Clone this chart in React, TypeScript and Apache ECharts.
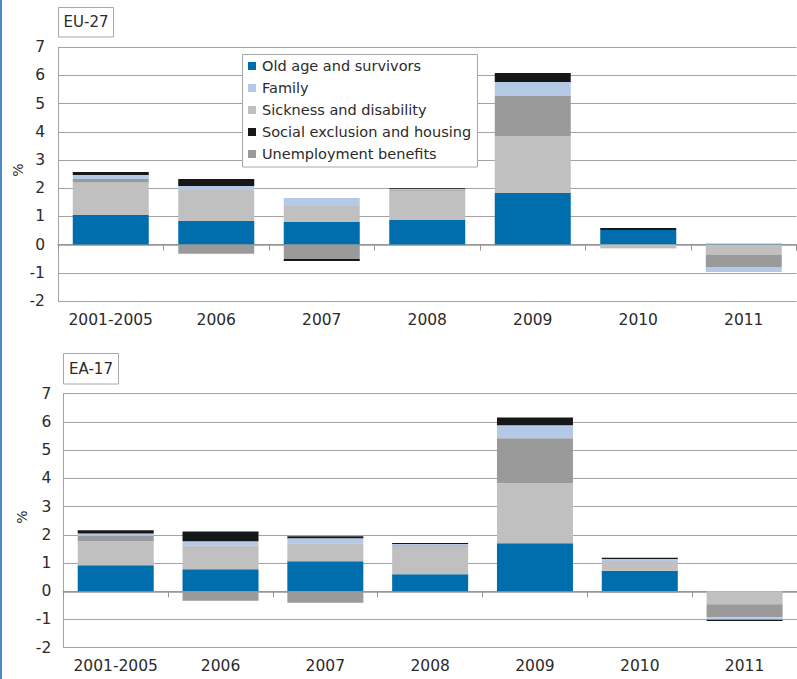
import React, { useEffect, useRef } from "react";
import * as echarts from "echarts";

const categories = ["2001-2005", "2006", "2007", "2008", "2009", "2010", "2011"];
const seriesNames = [
  "Old age and survivors",
  "Sickness and disability",
  "Unemployment benefits",
  "Family",
  "Social exclusion and housing",
];
const legendOrder = [
  "Old age and survivors",
  "Family",
  "Sickness and disability",
  "Social exclusion and housing",
  "Unemployment benefits",
];
const colors = ["#006dac", "#bfc0bf", "#9a9a9a", "#b4c9e6", "#161817"];

// EU-27
const euOldAge = [1.05, 0.84, 0.8, 0.87, 1.83, 0.52, 0.03];
const euSickness = [1.15, 1.1, 0.57, 1.04, 2.02, -0.1, -0.37];
const euUnemployment = [0.13, -0.32, -0.51, 0.03, 1.42, -0.03, -0.42];
const euFamily = [0.14, 0.14, 0.28, 0.03, 0.5, 0, -0.18];
const euSocial = [0.11, 0.25, -0.07, 0.03, 0.32, 0.07, 0];

// EA-17
const eaOldAge = [0.92, 0.78, 1.06, 0.6, 1.7, 0.73, 0];
const eaSickness = [0.85, 0.85, 0.64, 0.99, 2.13, 0.34, -0.46];
const eaUnemployment = [0.2, -0.34, -0.41, 0.04, 1.59, -0.04, -0.46];
const eaFamily = [0.08, 0.14, 0.18, 0.04, 0.46, 0.07, -0.09];
const eaSocial = [0.11, 0.35, 0.07, 0.04, 0.28, 0.05, -0.04];

const yMin = -2;
const yMax = 7;
const yInterval = 1;

const FONT = "DejaVu Sans";
const TEXT = "#2b2b2b";
const GRIDC = "#a3a3a3";

export default function App() {
  const ref = useRef<HTMLDivElement>(null);
  useEffect(() => {
    if (!ref.current) return;
    const chart = echarts.init(ref.current, null, { renderer: "svg" });
    const euData = [euOldAge, euSickness, euUnemployment, euFamily, euSocial];
    const eaData = [eaOldAge, eaSickness, eaUnemployment, eaFamily, eaSocial];

    const grids = [
      { left: 58, top: 47.3, width: 738.5, height: 253.7 },
      { left: 63.3, top: 393.7, width: 738.5, height: 254 },
    ];

    const xAxes: any[] = [];
    const yAxes: any[] = [];
    [0, 1].forEach((g) => {
      xAxes.push({
        type: "category",
        gridIndex: g,
        data: categories,
        position: "bottom",
        axisLine: { show: true, onZero: true, lineStyle: { color: "#959595", width: 1.5 } },
        axisTick: { show: true, length: 6, interval: 0, lineStyle: { color: "#959595", width: 1 } },
        axisLabel: { show: false },
        splitLine: { show: false },
      });
      xAxes.push({
        type: "category",
        gridIndex: g,
        data: categories,
        position: "bottom",
        axisLine: { show: false, onZero: false },
        axisTick: { show: false },
        axisLabel: {
          show: true,
          interval: 0,
          margin: g === 0 ? 11 : 10,
          color: TEXT,
          fontFamily: FONT,
          fontSize: 15.5,
        },
        splitLine: { show: false },
      });
      yAxes.push({
        type: "value",
        gridIndex: g,
        min: yMin,
        max: yMax,
        interval: yInterval,
        axisLine: { show: true, lineStyle: { color: GRIDC, width: 1 } },
        axisTick: { show: false },
        axisLabel: {
          color: TEXT,
          fontFamily: FONT,
          fontSize: 15.5,
          margin: g === 0 ? 13 : 12,
        },
        splitLine: { show: true, lineStyle: { color: GRIDC, width: 1 } },
      });
    });

    const series: any[] = [];
    [euData, eaData].forEach((d, g) => {
      seriesNames.forEach((name, i) => {
        series.push({
          type: "bar",
          name,
          xAxisIndex: g * 2,
          yAxisIndex: g,
          stack: "s" + g,
          barWidth: 76,
          data: d[i],
          itemStyle: { color: colors[i] },
        });
      });
    });

    const titleBox = (x: number, y: number, w: number, h: number, label: string) => ({
      type: "group",
      children: [
        {
          type: "rect",
          shape: { x, y, width: w, height: h },
          style: { fill: "#fff", stroke: "#a8a8a8", lineWidth: 1 },
        },
        {
          type: "text",
          x: x + w / 2,
          y: y + h / 2,
          style: {
            text: label,
            fill: TEXT,
            font: `15px '${FONT}'`,
            textAlign: "center",
            textVerticalAlign: "middle",
          },
        },
      ],
    });

    chart.setOption({
      animation: false,
      color: colors,
      grid: grids,
      xAxis: xAxes,
      yAxis: yAxes,
      series,
      legend: {
        data: legendOrder,
        orient: "vertical",
        left: 242,
        top: 54,
        padding: [3, 6, 4, 6],
        itemWidth: 8,
        itemHeight: 8,
        itemGap: 4,
        icon: "rect",
        z: 10,
        textStyle: {
          color: TEXT,
          fontFamily: FONT,
          fontSize: 14.5,
          lineHeight: 18,
          padding: [0, 0, 0, 1],
        },
      },
      graphic: [
        {
          type: "rect",
          z: 5,
          shape: { x: 242.5, y: 54.5, width: 235, height: 112.5 },
          style: { fill: "#fff", stroke: "#a8a8a8", lineWidth: 1 },
        },
        titleBox(58.5, 7.5, 55, 29.5, "EU-27"),
        titleBox(63.5, 353.5, 55, 30.5, "EA-17"),
        {
          type: "text",
          x: 18,
          y: 170,
          rotation: Math.PI / 2,
          style: {
            text: "%",
            fill: TEXT,
            font: `14px '${FONT}'`,
            textAlign: "center",
            textVerticalAlign: "middle",
          },
        },
        {
          type: "text",
          x: 22,
          y: 517,
          rotation: Math.PI / 2,
          style: {
            text: "%",
            fill: TEXT,
            font: `14px '${FONT}'`,
            textAlign: "center",
            textVerticalAlign: "middle",
          },
        },
        {
          type: "rect",
          shape: { x: 0, y: 0, width: 2, height: 679 },
          style: { fill: "#4b8cca" },
        },
      ],
    });
    return () => chart.dispose();
  }, []);
  return (
    <div
      ref={ref}
      style={{ position: "absolute", left: 0, top: 0, width: 797, height: 679, background: "#fff" }}
    />
  );
}
